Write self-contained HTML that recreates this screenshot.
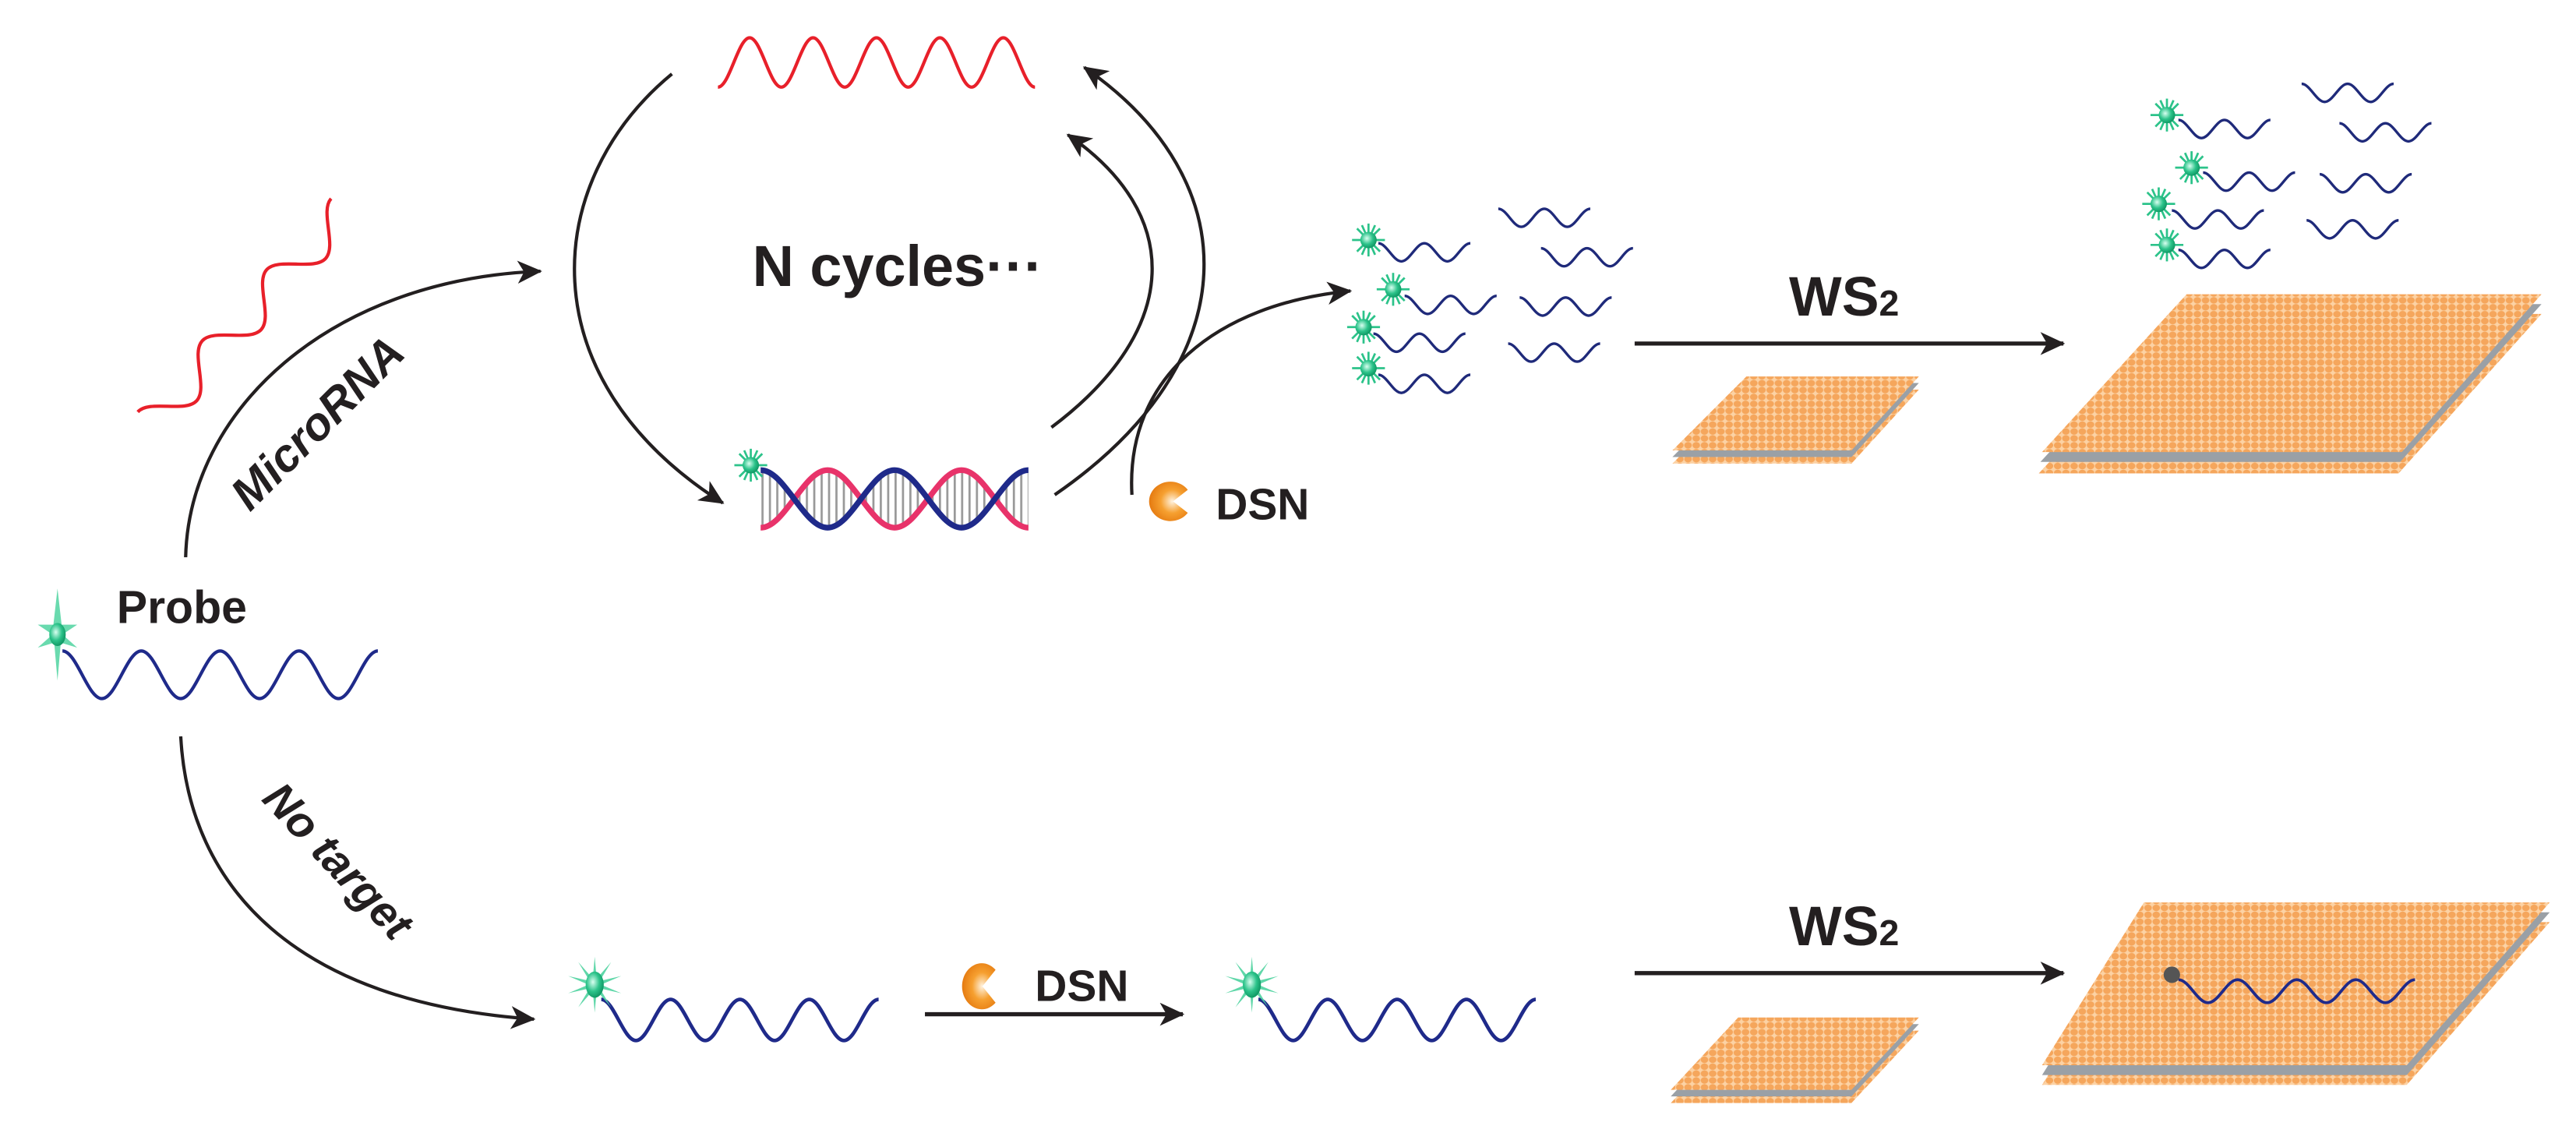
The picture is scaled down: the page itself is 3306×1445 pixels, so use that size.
<!DOCTYPE html>
<html><head><meta charset="utf-8"><style>
html,body{margin:0;padding:0;background:#fff;}
svg{display:block;}
text{font-family:"Liberation Sans",sans-serif;font-weight:bold;fill:#231f20;}
</style></head><body>
<svg width="3306" height="1445" viewBox="0 0 1568 685" preserveAspectRatio="none" xmlns="http://www.w3.org/2000/svg">
<defs>
<marker id="ah" markerUnits="userSpaceOnUse" markerWidth="18" markerHeight="16" refX="14" refY="7" orient="auto"><path d="M0,0 L15,7 L0,14 L4,7 Z" fill="#231f20"/></marker>
<pattern id="dots" width="5" height="4.2" patternUnits="userSpaceOnUse"><rect width="5" height="4.2" fill="#fcd2a4"/><ellipse cx="2.5" cy="2.1" rx="2.3" ry="2" fill="#f5a65c"/></pattern>
<radialGradient id="gb" cx="0.4" cy="0.4" r="0.6"><stop offset="0" stop-color="#d8fff0"/><stop offset="0.6" stop-color="#2cc38a"/><stop offset="1" stop-color="#119a66"/></radialGradient>
<radialGradient id="pg" cx="0.6" cy="0.5" r="0.6"><stop offset="0" stop-color="#fff3e0"/><stop offset="0.5" stop-color="#f6a030"/><stop offset="1" stop-color="#e57a10"/></radialGradient>
<g id="ss"><g stroke="#2cc38a" stroke-width="1.3"><line x1="-10" y1="0" x2="10" y2="0"/><line x1="0" y1="-10" x2="0" y2="10"/><line x1="-7" y1="-7" x2="7" y2="7"/><line x1="-7" y1="7" x2="7" y2="-7"/><line x1="-4" y1="-9" x2="4" y2="9"/><line x1="4" y1="-9" x2="-4" y2="9"/></g><circle r="5" fill="url(#gb)"/></g>
<g id="bs"><path d="M0,-28 L2.5,-6 L12,-6 L3,0 L12,8 L2,5 L0,28 L-2,5 L-12,8 L-3,0 L-12,-6 L-2.5,-6 Z" fill="#4fd3a0" opacity="0.85"/><ellipse rx="5" ry="7" fill="url(#gb)"/></g>
<g id="ms"><g fill="#4fd3a0" opacity="0.9">
<path d="M-1.5,0 L0,-17 L1.5,0 Z"/><path d="M-1.5,0 L0,-17 L1.5,0 Z" transform="rotate(36)"/><path d="M-1.5,0 L0,-17 L1.5,0 Z" transform="rotate(72)"/><path d="M-1.5,0 L0,-17 L1.5,0 Z" transform="rotate(108)"/><path d="M-1.5,0 L0,-17 L1.5,0 Z" transform="rotate(144)"/><path d="M-1.5,0 L0,-17 L1.5,0 Z" transform="rotate(180)"/><path d="M-1.5,0 L0,-17 L1.5,0 Z" transform="rotate(216)"/><path d="M-1.5,0 L0,-17 L1.5,0 Z" transform="rotate(252)"/><path d="M-1.5,0 L0,-17 L1.5,0 Z" transform="rotate(288)"/><path d="M-1.5,0 L0,-17 L1.5,0 Z" transform="rotate(324)"/></g>
<ellipse rx="5.5" ry="8" fill="url(#gb)"/></g>
<path id="fw" d="M0,0 c5,0 9,11 14,11 s9,-11 14,-11 s9,11 14,11 s9,-11 14,-11" fill="none" stroke="#1f2a7a" stroke-width="1.6"/>
<clipPath id="dnaclip"><path d="M463,286 c14.7,0 26.1,35 40.75,35 s26.1,-35 40.75,-35 s26.1,35 40.75,35 s26.1,-35 40.75,-35 L626,321 c-14.7,0 -26.1,-35 -40.75,-35 s-26.1,35 -40.75,35 s-26.1,-35 -40.75,-35 s-26.1,35 -40.75,35 Z"/></clipPath>
<pattern id="stripes" width="4.5" height="10" patternUnits="userSpaceOnUse"><rect x="0" y="0" width="1.3" height="10" fill="#999"/></pattern>
</defs>

<!-- top red target -->
<path d="M437,53 c7,0 12.3,-30 19.3,-30 s12.3,30 19.3,30 s12.3,-30 19.3,-30 s12.3,30 19.3,30 s12.3,-30 19.3,-30 s12.3,30 19.3,30 s12.3,-30 19.3,-30 s12.3,30 19.3,30 s12.3,-30 19.3,-30 s12.3,30 19.3,30" fill="none" stroke="#e8202a" stroke-width="2"/>

<!-- arcs -->
<g fill="none" stroke="#231f20" stroke-width="2">
<path d="M409,45 C330,110 320,230 440,306" marker-end="url(#ah)"/>
<path d="M113,339 C115,250 200,170 329,165" marker-end="url(#ah)"/>
<path d="M640,260 C720,200 720,130 650,82" marker-end="url(#ah)"/>
<path d="M642,301 C760,220 760,110 660,41" marker-end="url(#ah)"/>
<path d="M689,301 C685,230 740,185 822,177" marker-end="url(#ah)"/>
<path d="M110,448 C115,540 180,610 325,620" marker-end="url(#ah)"/>
<line x1="995" y1="209" x2="1256" y2="209" stroke-width="2.5" marker-end="url(#ah)"/>
<line x1="995" y1="592" x2="1256" y2="592" stroke-width="2.5" marker-end="url(#ah)"/>
<line x1="563" y1="617" x2="720" y2="617" stroke-width="2.5" marker-end="url(#ah)"/>
</g>

<!-- microRNA red -->
<g transform="translate(92,258) rotate(-47.8)"><path d="M0,-11 c10.5,0 18.8,22 29.2,22 s18.8,-22 29.2,-22 s18.8,22 29.2,22 s18.8,-22 29.2,-22 s18.8,22 29.2,22 s18.8,-22 29.2,-22" fill="none" stroke="#e8202a" stroke-width="2"/></g>
<text transform="translate(200,264) rotate(-45)" font-size="28" text-anchor="middle" font-style="italic">MicroRNA</text>

<text x="458" y="174" font-size="35">N cycles···</text>

<!-- DNA duplex -->
<rect x="463" y="286" width="163" height="35" fill="url(#stripes)" clip-path="url(#dnaclip)"/>
<path d="M463,321 c14.7,0 26.1,-35 40.75,-35 s26.1,35 40.75,35 s26.1,-35 40.75,-35 s26.1,35 40.75,35" fill="none" stroke="#e8336a" stroke-width="3.5"/>
<path d="M463,286 c14.7,0 26.1,35 40.75,35 s26.1,-35 40.75,-35 s26.1,35 40.75,35 s26.1,-35 40.75,-35" fill="none" stroke="#1f2a8a" stroke-width="3.5"/>
<use href="#ss" x="457" y="283"/>

<!-- DSN top -->
<path d="M712,305 m11,-7 A13,12 0 1 0 723,312 L714,305 Z" fill="url(#pg)"/>
<text x="740" y="316" font-size="27">DSN</text>

<!-- fragments left -->
<use href="#ss" x="833" y="146"/><use href="#fw" x="839" y="148"/>
<use href="#ss" x="848" y="176"/><use href="#fw" x="855" y="180"/>
<use href="#ss" x="830" y="199"/><use href="#fw" x="836" y="203"/>
<use href="#ss" x="833" y="224"/><use href="#fw" x="839" y="228"/>
<use href="#fw" x="912" y="127"/><use href="#fw" x="938" y="151"/>
<use href="#fw" x="925" y="181"/><use href="#fw" x="918" y="209"/>

<text x="1089" y="192" font-size="34">WS<tspan font-size="22">2</tspan></text>
<text x="1089" y="575" font-size="34">WS<tspan font-size="22">2</tspan></text>

<!-- sheets -->
<g>
<polygon points="1063,237 1168,237 1127,282 1018,282" fill="url(#dots)"/>
<polygon points="1063,233 1168,233 1127,278 1018,278" fill="#9aa0a6"/>
<polygon points="1063,229 1168,229 1127,274 1018,274" fill="url(#dots)"/>

<polygon points="1331,191 1547,191 1460,288 1241,288" fill="url(#dots)"/>
<polygon points="1331,185 1547,185 1461,281 1242,281" fill="#9aa0a6"/>
<polygon points="1331,179 1547,179 1462,275 1243,275" fill="url(#dots)"/>

<polygon points="1058,627 1168,627 1127,671 1017,671" fill="url(#dots)"/>
<polygon points="1058,623 1168,623 1127,667 1017,667" fill="#9aa0a6"/>
<polygon points="1058,619 1168,619 1127,663 1017,663" fill="url(#dots)"/>

<polygon points="1305,561 1552,561 1465,660 1243,660" fill="url(#dots)"/>
<polygon points="1305,555 1552,555 1465,654 1243,654" fill="#9aa0a6"/>
<polygon points="1305,549 1552,549 1465,648 1243,648" fill="url(#dots)"/>
</g>

<!-- fragments right -->
<use href="#ss" x="1319" y="70"/><use href="#fw" x="1326" y="73"/>
<use href="#fw" x="1401" y="51"/><use href="#fw" x="1424" y="75"/>
<use href="#ss" x="1334" y="102"/><use href="#fw" x="1341" y="105"/>
<use href="#fw" x="1412" y="106"/>
<use href="#ss" x="1314" y="124"/><use href="#fw" x="1322" y="128"/>
<use href="#fw" x="1404" y="134"/>
<use href="#ss" x="1319" y="149"/><use href="#fw" x="1326" y="152"/>

<!-- probe -->
<path d="M38,396 c8.6,0 15.4,29 24,29 s15.4,-29 24,-29 s15.4,29 24,29 s15.4,-29 24,-29 s15.4,29 24,29 s15.4,-29 24,-29 s15.4,29 24,29 s15.4,-29 24,-29" fill="none" stroke="#1f2a8a" stroke-width="2"/>
<use href="#bs" x="35" y="386"/>
<text x="71" y="379" font-size="28">Probe</text>

<text transform="translate(199,530) rotate(47)" font-size="27" text-anchor="middle" font-style="italic">No target</text>

<!-- bottom row -->
<path d="M366,608 c7.6,0 13.5,25 21.1,25 s13.5,-25 21.1,-25 s13.5,25 21.1,25 s13.5,-25 21.1,-25 s13.5,25 21.1,25 s13.5,-25 21.1,-25 s13.5,25 21.1,25 s13.5,-25 21.1,-25" fill="none" stroke="#1f2a8a" stroke-width="2.2"/>
<use href="#ms" x="362" y="599"/>
<path d="M597,600 m9,-10 A12,14 0 1 0 606,610 L598,600 Z" fill="url(#pg)"/>
<text x="630" y="609" font-size="27">DSN</text>
<path d="M766,608 c7.6,0 13.5,25 21.1,25 s13.5,-25 21.1,-25 s13.5,25 21.1,25 s13.5,-25 21.1,-25 s13.5,25 21.1,25 s13.5,-25 21.1,-25 s13.5,25 21.1,25 s13.5,-25 21.1,-25" fill="none" stroke="#1f2a8a" stroke-width="2.2"/>
<use href="#ms" x="762" y="599"/>

<path d="M1326,596 c6.5,0 11.5,14 18,14 s11.5,-14 18,-14 s11.5,14 18,14 s11.5,-14 18,-14 s11.5,14 18,14 s11.5,-14 18,-14 s11.5,14 18,14 s11.5,-14 18,-14" fill="none" stroke="#1f2a8a" stroke-width="1.8"/>
<circle cx="1322" cy="593" r="5" fill="#555"/>
</svg>
</body></html>
